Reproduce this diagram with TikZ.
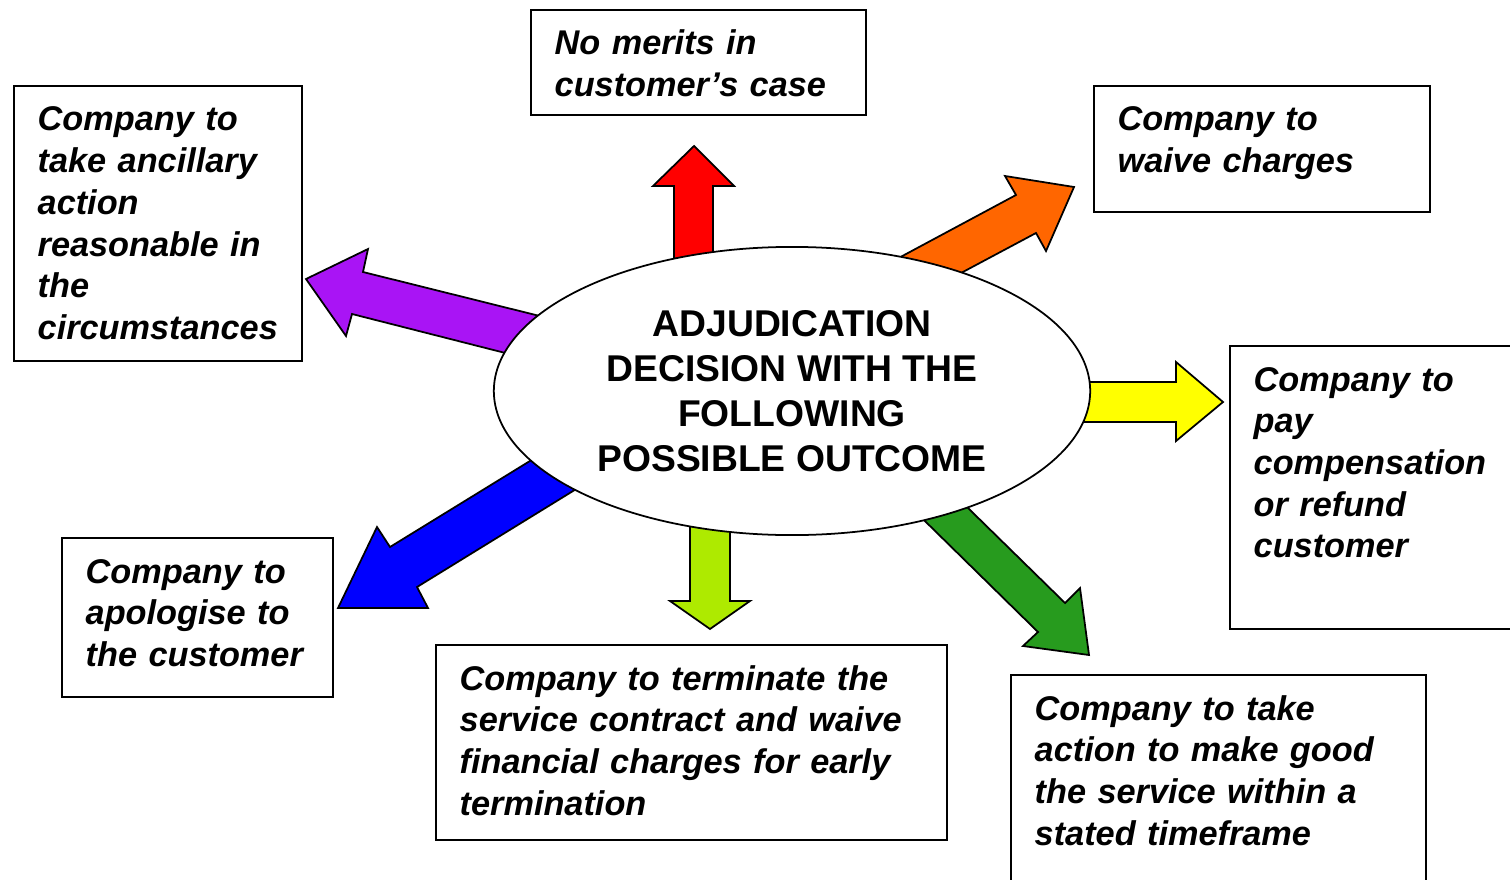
\documentclass[tikz,border=0pt]{standalone}
\usepackage{fontspec}
\setmainfont{Liberation Sans}
\usetikzlibrary{shapes.geometric}
\definecolor{cRed}{HTML}{FF0000}
\definecolor{cOrange}{HTML}{FF6600}
\definecolor{cPurple}{HTML}{A914F5}
\definecolor{cYellow}{HTML}{FFFF00}
\definecolor{cBlue}{HTML}{0000FF}
\definecolor{cLime}{HTML}{AEEA00}
\definecolor{cGreen}{HTML}{279B1E}
\tikzset{
  boxframe/.style={draw=black, line width=0.6pt},
  btxt/.style={anchor=base west, inner sep=0pt, text width=9cm, align=left,
     font=\fontsize{9.75}{11.86}\selectfont\bfseries\itshape},
  blockarrow/.style={draw=black, line width=0.5pt, line join=miter},
}
\begin{document}
\begin{tikzpicture}[x=0.01cm, y=-0.01cm]
\useasboundingbox (0,0) rectangle (1510,879);

% block arrows (tails hidden under ellipse)
\filldraw[blockarrow, fill=cRed] (674,300) -- (674,186) -- (653,186) -- (694,146) -- (734,186) -- (713,186) -- (713,300) -- cycle;
\filldraw[blockarrow, fill=cOrange] (839,290) -- (1016,195) -- (1005,176) -- (1074,187) -- (1046,251) -- (1036,233) -- (901,305) -- cycle;
\filldraw[blockarrow, fill=cPurple] (600,331) -- (363,272) -- (368,249) -- (306,279) -- (346,336) -- (352,314) -- (580,372) -- cycle;
\filldraw[blockarrow, fill=cYellow] (1000,382) -- (1176,382) -- (1176,362) -- (1223,402) -- (1176,441) -- (1176,422) -- (1000,422) -- cycle;
\filldraw[blockarrow, fill=cBlue] (608,413) -- (390,547) -- (377,527) -- (338,608) -- (428,608) -- (417,587) -- (651,443) -- cycle;
\filldraw[blockarrow, fill=cLime] (690,480) -- (690,601) -- (670,601) -- (710,629) -- (750,601) -- (730,601) -- (730,480) -- cycle;
\filldraw[blockarrow, fill=cGreen] (919,460) -- (1065,603) -- (1080,588) -- (1089,655) -- (1023,646) -- (1038,632) -- (877,474) -- cycle;

% central ellipse
\node[ellipse, draw=black, line width=0.5pt, fill=white, minimum width=5.96cm, minimum height=2.88cm, inner sep=0pt,
      align=center, font=\fontsize{10.6}{12.8}\selectfont\bfseries] (E) at (792,391)
  {ADJUDICATION\\DECISION WITH THE\\FOLLOWING\\POSSIBLE OUTCOME};

% boxes
\draw[boxframe] (531,10) rectangle (866,115);
\draw[boxframe] (1094,86) rectangle (1430,212);
\draw[boxframe] (14,86) rectangle (302,361);
\draw[boxframe] (1230,346) rectangle (1525,629);
\draw[boxframe] (62,538) rectangle (333,697);
\draw[boxframe] (436,645) rectangle (947,840);
\draw[boxframe] (1011,675) rectangle (1426,895);

% texts
\node[btxt] (t1) at (554,55) {No merits in\\customer’s case};
\node[btxt] (t2) at (1117,131) {Company to\\waive charges};
\node[btxt] (t3) at (37,131) {Company to\\take ancillary\\action\\reasonable in\\the\\circumstances};
\node[btxt] (t4) at (1253,391) {Company to\\pay\\compensation\\or refund\\customer};
\node[btxt] (t5) at (85,583) {Company to\\apologise to\\the customer};
\node[btxt] (t6) at (459,690) {Company to terminate the\\service contract and waive\\financial charges for early\\termination};
\node[btxt] (t7) at (1034,720) {Company to take\\action to make good\\the service within a\\stated timeframe};
\end{tikzpicture}
\end{document}
